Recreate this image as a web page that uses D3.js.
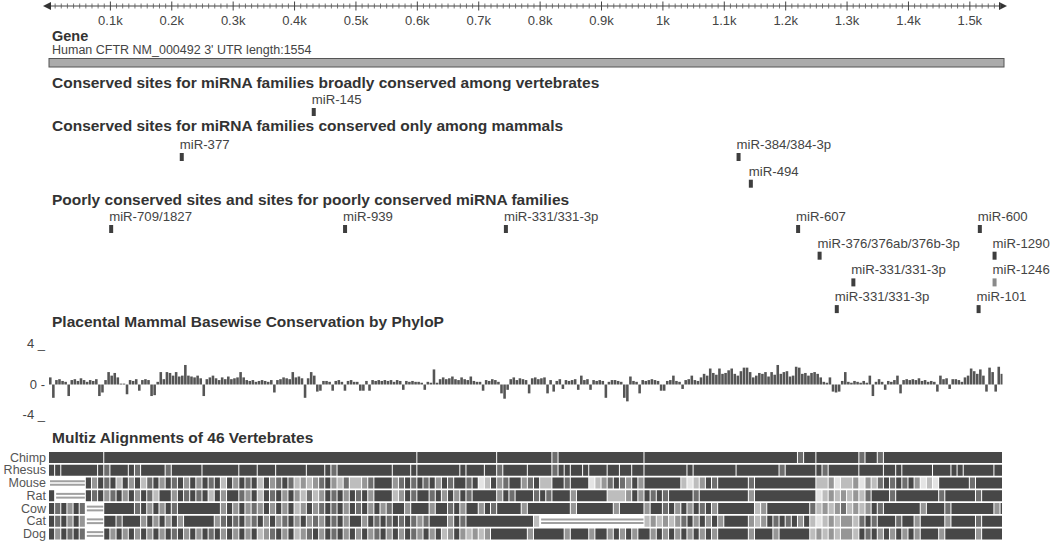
<!DOCTYPE html>
<html>
<head>
<meta charset="utf-8">
<script src="https://cdn.jsdelivr.net/npm/d3@7/dist/d3.min.js"></script>
<style>
  body { margin: 0; background: #fff; }
  svg { display: block; font-family: "Liberation Sans", Arial, sans-serif; }
</style>
</head>
<body>
<div id="chart"></div>
<script>
// --- data ---
var utrLength = 1554;
var rulerTicks = [100, 200, 300, 400, 500, 600, 700, 800, 900, 1000, 1100, 1200, 1300, 1400, 1500];
var rulerLabels = ["0.1k", "0.2k", "0.3k", "0.4k", "0.5k", "0.6k", "0.7k", "0.8k", "0.9k", "1k", "1.1k", "1.2k", "1.3k", "1.4k", "1.5k"];

// [name, position (bp), lane]
var broadSites = [["miR-145", 428, 0]];
var mammalSites = [["miR-377", 213, 0], ["miR-384/384-3p", 1120, 0], ["miR-494", 1140, 1]];
var poorSites = [
  ["miR-709/1827", 98, 0], ["miR-939", 479, 0], ["miR-331/331-3p", 741, 0],
  ["miR-607", 1217, 0], ["miR-376/376ab/376b-3p", 1252, 1], ["miR-331/331-3p", 1307, 2],
  ["miR-331/331-3p", 1280, 3], ["miR-600", 1513, 0], ["miR-1290", 1537, 1],
  ["miR-1246", 1537, 2], ["miR-101", 1511, 3]
];
var weakSites = ["miR-1246"];

// phyloP score, one value per 5 bp
var phyloP = [
  0.8,-1.5,0.5,0.6,0.4,0.3,-1.3,0.5,0.6,0.4,
  0.7,0.5,0.3,0.5,0.4,0.6,-1.3,-0.9,0.5,1.4,
  1.0,1.3,0.8,0.1,0.1,-1.1,0.5,0.4,0.6,-0.7,
  0.5,0.6,0.5,-1.3,-1.2,0.3,1.4,0.6,1.4,1.3,
  1.0,1.4,0.9,1.0,2.2,1.0,0.9,0.8,1.0,0.7,
  -1.3,0.6,0.8,1.0,0.7,0.5,0.8,0.6,0.9,0.6,
  0.7,0.8,1.4,0.8,0.5,0.4,0.5,0.3,0.4,0.5,
  0.4,0.3,0.5,-0.9,0.5,0.6,0.8,0.7,0.6,1.4,
  0.8,0.9,0.7,-1.5,0.7,1.4,1.0,-0.8,-0.7,0.4,
  0.4,0.3,-0.7,0.4,0.5,0.3,-0.7,0.4,0.5,0.3,
  0.3,-0.7,-0.7,0.4,-0.7,0.5,0.4,0.5,0.4,0.5,
  0.4,0.5,0.3,0.5,0.4,-0.6,0.4,0.3,0.4,0.3,
  0.3,0.2,-0.6,0.3,0.2,1.7,0.2,0.6,0.8,0.6,
  0.7,0.9,0.6,0.5,0.8,0.6,0.5,0.9,0.4,0.3,
  0.3,-0.7,0.5,0.4,0.6,0.5,0.3,-1.0,-1.6,-0.6,
  0.6,0.8,0.5,0.7,0.6,0.5,-1.0,0.7,0.8,0.6,
  0.7,0.8,-1.0,0.5,-0.8,0.4,0.6,-0.5,0.5,0.4,
  0.5,0.6,-0.6,1.0,0.5,0.6,-0.6,0.5,0.4,0.5,
  0.4,-1.5,0.3,0.5,0.5,0.4,0.3,-1.5,-1.9,0.9,
  0.4,0.3,-1.0,0.5,0.4,0.5,0.6,0.5,0.4,-0.7,
  -0.7,0.4,0.5,1.0,0.4,0.3,-0.5,0.5,0.6,1.0,
  0.5,0.4,0.8,1.2,1.0,1.8,1.3,1.1,1.8,1.2,
  1.3,1.6,1.8,1.2,1.0,1.5,1.9,1.9,1.4,0.8,
  1.0,1.3,1.2,1.4,0.9,1.4,1.1,2.2,1.2,1.4,
  1.5,0.9,1.0,2.0,1.9,1.2,1.3,1.0,1.3,1.4,
  1.2,0.8,0.3,0.2,0.8,-0.8,-0.9,-0.8,0.4,1.4,
  0.3,0.2,0.4,0.3,0.2,0.4,0.2,1.0,-1.3,0.3,
  0.6,0.3,-0.6,0.4,0.3,0.5,1.0,-1.0,0.5,0.6,
  0.5,0.6,0.5,0.7,0.4,0.5,0.3,0.4,0.3,-0.8,
  1.0,0.6,0.7,-0.5,0.6,0.6,0.5,0.3,0.8,1.0,
  1.8,1.5,1.2,1.7,1.0,-0.8,1.9,1.4,-0.8,2.0,
  1.2
];
var phyloTicks = [4, 0, -4];
var phyloTickLabels = ["4 _", "0 -", "-4 _"];

// multiz: one char per 10 bp; 9 = dark ... 1 = light, "-" = gap, "|" = block break
var species = ["Chimp", "Rhesus", "Mouse", "Rat", "Cow", "Cat", "Dog"];
var chimp = ["999999999|9", "9999999999", "9999999999", "9999999999", "9999999999", "9999999999",
  "|9999999999", "999|9999999", "9979999999", "9999999|999", "9999999999", "9999999999",
  "99799|99999", "9979979999", "9999999999", "999999"];
var rhesus = ["9|9|999999|97", "999|97|99997", "99999|99999", "9|999|999|999", "99|999|97|999", "999999|999|9",
  "|9999999|9|99", "9|997|9999|99", "9979|9|99|9|99", "9|99|99|99|999", "9999|9|99999", "99|99999997",
  "99999|97999", "99|9999|99|9|9", "9999|999|9|9|9", "9999|99"];
var mouse = ["------9597", "9395937959", "7959597939", "5979395797", "3535795373", "3579995797",
  "9795979979", "1395799579", "3399799913", "5797595999", "9993135979", "9999799999",
  "9999933513", "3515379797", "9513199999", "799999"];
var rat = ["9-----9795", "7959597399", "5979793959", "9759397959", "5373597959", "7959993597",
  "9979595979", "9995979997", "9799959999", "9333595979", "7999979999", "9999599999",
  "9999913535", "3537999799", "9999979999", "979999"];
var cow = ["979597---9", "9999795959", "7999999959", "5957595959", "3595797959", "7959579959",
  "9959979599", "5979999599", "9999959999", "9959999599", "7959597959", "9999935999",
  "9999735357", "3535979999", "9959997999", "999959"];
var cat = ["979595---9", "9799959595", "9599999579", "7957959579", "5957597959", "9597979797",
  "5799959799", "9999999993", "----------", "-------353", "5357959595", "9999535979",
  "7959313535", "5379799979", "9599995999", "979999"];
var dog = ["959797---9", "5959595959", "7959597959", "5959357959", "3579597959", "5957959597",
  "5959359535", "3599999959", "9999599959", "9595959959", "5959595959", "9999599959",
  "9999353535", "5397959595", "9599959999", "959999"];
var multizRows = [chimp, rhesus, mouse, rat, cow, cat, dog];

// --- drawing ---
var width = 1050, height = 541;
var svg = d3.select("#chart").append("svg")
  .attr("width", width)
  .attr("height", height);

var x = d3.scaleLinear().domain([0, utrLength]).range([49, 1003]);

// ruler
var ruler = svg.append("g");
ruler.append("line")
  .attr("x1", 46).attr("x2", 1001).attr("y1", 6).attr("y2", 6)
  .attr("stroke", "#444").attr("stroke-width", 1.2);
ruler.append("path").attr("d", "M43,6 L51,2 L51,10 Z").attr("fill", "#333");
ruler.append("path").attr("d", "M1007,6 L999,2 L999,10 Z").attr("fill", "#333");
var minor = d3.range(10, utrLength, 10).filter(function(d) { return d % 100 !== 0; });
ruler.selectAll(".minor").data(minor).enter().append("line")
  .attr("x1", d => x(d)).attr("x2", d => x(d))
  .attr("y1", 3.5).attr("y2", 8.5)
  .attr("stroke", "#555").attr("stroke-width", 0.8);
ruler.selectAll(".major").data(rulerTicks).enter().append("line")
  .attr("x1", d => x(d)).attr("x2", d => x(d))
  .attr("y1", 1.5).attr("y2", 10.5)
  .attr("stroke", "#444").attr("stroke-width", 1);
ruler.selectAll("text").data(rulerTicks).enter().append("text")
  .attr("x", d => x(d)).attr("y", 25)
  .attr("text-anchor", "middle")
  .style("font-size", "13px").attr("fill", "#444")
  .text((d, i) => rulerLabels[i]);

function title(txt, y) {
  svg.append("text").attr("x", 52).attr("y", y)
    .style("font-size", "15.5px").style("font-weight", "bold")
    .attr("fill", "#333").text(txt);
}

// gene
svg.append("text").attr("x", 52).attr("y", 40.5)
  .style("font-size", "14.5px").style("font-weight", "bold").attr("fill", "#333").text("Gene");
svg.append("text").attr("x", 52).attr("y", 53.5)
  .style("font-size", "12.5px").attr("fill", "#444").text("Human CFTR NM_000492 3' UTR length:1554");
svg.append("rect")
  .attr("x", x(0)).attr("y", 58.5)
  .attr("width", x(utrLength) - x(0) + 1).attr("height", 8.5)
  .attr("fill", "#ababab").attr("stroke", "#555").attr("stroke-width", 1);

// miRNA site tracks
function siteTrack(sites, firstTop) {
  var g = svg.append("g");
  var laneStep = 26.7;
  g.selectAll("rect").data(sites).enter().append("rect")
    .attr("x", d => x(d[1]))
    .attr("y", d => firstTop + d[2] * laneStep)
    .attr("width", 4).attr("height", 8)
    .attr("fill", d => weakSites.indexOf(d[0]) >= 0 ? "#8a8a8a" : "#3e3e3e");
  g.selectAll("text").data(sites).enter().append("text")
    .attr("x", d => x(d[1]))
    .attr("y", d => firstTop + d[2] * laneStep - 4)
    .style("font-size", "13.2px").attr("fill", "#444")
    .text(d => d[0]);
}

title("Conserved sites for miRNA families broadly conserved among vertebrates", 88);
siteTrack(broadSites, 108);
title("Conserved sites for miRNA families conserved only among mammals", 131);
siteTrack(mammalSites, 153);
title("Poorly conserved sites and sites for poorly conserved miRNA families", 205);
siteTrack(poorSites, 225);

// phyloP
title("Placental Mammal Basewise Conservation by PhyloP", 327);
var y = d3.scaleLinear().domain([-4, 4]).range([420, 349]);
svg.append("g").selectAll("rect").data(phyloP).enter().append("rect")
  .attr("x", (d, i) => x(i * 5))
  .attr("width", (d, i) => Math.max(0.8, x(Math.min(i * 5 + 5, utrLength)) - x(i * 5) - 0.5))
  .attr("y", d => y(Math.max(d, 0)))
  .attr("height", d => Math.abs(y(d) - y(0)))
  .attr("fill", "#555");
svg.append("g").selectAll("text").data(phyloTicks).enter().append("text")
  .attr("x", 45)
  .attr("y", d => d === 0 ? y(0) + 4.5 : y(d) - 1)
  .attr("text-anchor", "end")
  .style("font-size", "13px").attr("fill", "#444")
  .text((d, i) => phyloTickLabels[i]);

// multiz
title("Multiz Alignments of 46 Vertebrates", 443);
var shade = d3.scaleLinear().domain([1, 9]).range(["#e4e4e4", "#474747"]);
function parseRow(chunks) {
  var runs = [], bin = 0, brk = false;
  chunks.join("").split("").forEach(function(ch) {
    if (ch === "|") { brk = true; return; }
    var last = runs[runs.length - 1];
    if (!last || brk || last.ch !== ch) runs.push({ start: bin, end: bin + 1, ch: ch });
    else last.end += 1;
    brk = false;
    bin += 1;
  });
  return runs;
}
var rowTop = d3.scaleLinear().domain([0, 6]).range([452, 528.5]);
multizRows.forEach(function(row, r) {
  var top = rowTop(r), h = 11;
  var g = svg.append("g");
  var runs = parseRow(row);
  runs.forEach(function(run) {
    var x0 = x(run.start * 10), x1 = x(Math.min(run.end * 10, utrLength));
    if (run.ch === "-") {
      [0.33, 0.67].forEach(function(f) {
        g.append("line").attr("x1", x0 + 1).attr("x2", x1 - 1)
          .attr("y1", top + h * f).attr("y2", top + h * f)
          .attr("stroke", "#a0a0a0").attr("stroke-width", 2);
      });
    } else {
      g.append("rect").attr("x", x0).attr("y", top)
        .attr("width", Math.max(0.6, x1 - x0 - 1)).attr("height", h)
        .attr("fill", shade(+run.ch));
    }
  });
  svg.append("text").attr("x", 46).attr("y", top + 9.5)
    .attr("text-anchor", "end")
    .style("font-size", "12.5px").attr("fill", "#555")
    .text(species[r]);
});
</script>
</body>
</html>
